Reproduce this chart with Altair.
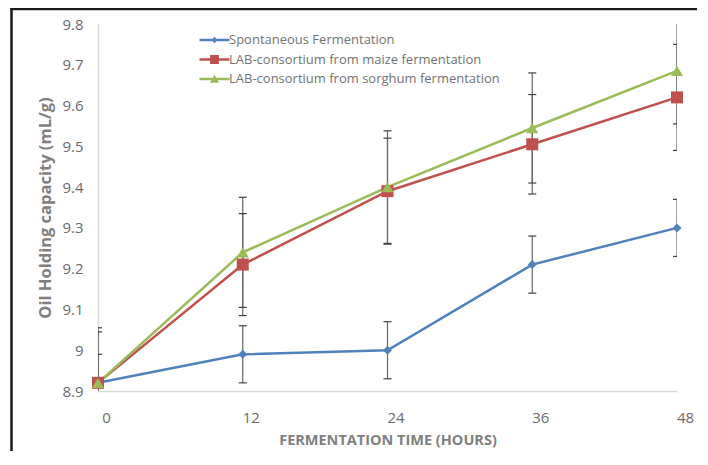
import altair as alt
import pandas as pd

hours = [0, 12, 24, 36, 48]
series_names = [
    "Spontaneous Fermentation",
    "LAB-consortium from maize fermentation",
    "LAB-consortium from sorghum fermentation",
]
spontaneous = [8.92, 8.99, 9.00, 9.21, 9.30]
spontaneous_err = [0.07, 0.07, 0.07, 0.07, 0.07]
maize = [8.92, 9.21, 9.39, 9.505, 9.62]
maize_err = [0.125, 0.125, 0.13, 0.122, 0.13]
sorghum = [8.92, 9.24, 9.40, 9.545, 9.685]
sorghum_err = [0.135, 0.135, 0.138, 0.135, 0.13]
y_ticks = [8.9, 9.0, 9.1, 9.2, 9.3, 9.4, 9.5, 9.6, 9.7, 9.8]
x_ticks = [0, 12, 24, 36, 48]

colors = ["#4F81BD", "#C0504D", "#9BBB59"]
shapes = ["diamond", "square", "triangle-up"]
marker_sizes = [81, 144, 144]
# legend symbols: a short line segment with the marker on it (unit = sqrt(size)/2 px)
legend_paths = [
    "M-3.75,-0.3H3.75V0.3H-3.75Z M0,-0.8L0.8,0L0,0.8L-0.8,0Z",
    "M-3.75,-0.3H3.75V0.3H-3.75Z M-1.1,-1.1H1.1V1.1H-1.1Z",
    "M-3.75,-0.3H3.75V0.3H-3.75Z M0,-1.05L1.15,0.95L-1.15,0.95Z",
]

rows = []
for name, vals, errs in zip(series_names, [spontaneous, maize, sorghum],
                            [spontaneous_err, maize_err, sorghum_err]):
    for h, v, e in zip(hours, vals, errs):
        rows.append({"series": name, "hour": h, "value": v, "lo": v - e, "hi": v + e})
df = pd.DataFrame(rows)

FONT = "Open Sans"
x_scale = alt.Scale(domain=[0, 48], nice=False, zero=False)
y_scale = alt.Scale(domain=[8.9, 9.8], nice=False, zero=False)
x_axis = alt.Axis(
    values=x_ticks, title="FERMENTATION TIME (HOURS)", grid=False, ticks=False,
    tickSize=0, labelPadding=19, labelOffset=8, labelFlush=False, labelOverlap=False,
    domainColor="#d9d9d9", domainWidth=1.5, labelFontSize=15, labelColor="#6b6b6b",
    labelFont=FONT, titleFont=FONT, titleFontSize=14.5, titleFontWeight="bold",
    titleColor="#7f7f7f", titleY=49, titleBaseline="middle",
)
y_axis = alt.Axis(
    values=y_ticks, format=".1~f", title="Oil Holding capacity (mL/g)", grid=False,
    ticks=False, tickSize=0, labelPadding=15, labelFlush=False, labelOverlap=False,
    domainColor="#d9d9d9", domainWidth=1.5, labelFontSize=15, labelColor="#6b6b6b",
    labelFont=FONT, titleFont=FONT, titleFontSize=16.5, titleFontWeight="bold",
    titleColor="#7f7f7f", titleX=-53, titleBaseline="middle",
)


def X():
    return alt.X("hour:Q", scale=x_scale, axis=x_axis)


def Y(field):
    return alt.Y(f"{field}:Q", scale=y_scale, axis=y_axis)


base = alt.Chart(df)

frame_data = alt.Data(values=[{}])
frame_left = alt.Chart(frame_data).mark_rule(color="#1a1a1a", strokeWidth=2.5).encode(
    x=alt.value(-86.5), y=alt.value(-16), y2=alt.value(430)
)
frame_top = alt.Chart(frame_data).mark_rule(color="#1a1a1a", strokeWidth=2.5).encode(
    x=alt.value(-87.5), x2=alt.value(600), y=alt.value(-15)
)

err_rule = base.mark_rule(color="#666666", strokeWidth=1.2, clip=True).encode(
    x=X(), y=Y("lo"), y2="hi:Q"
)
cap_lo = base.mark_tick(orient="horizontal", size=8, thickness=1.2, color="#404040",
                        clip=True, opacity=1).encode(x=X(), y=Y("lo"))
cap_hi = base.mark_tick(orient="horizontal", size=8, thickness=1.2, color="#404040",
                        clip=True, opacity=1).encode(x=X(), y=Y("hi"))

layers = [frame_left, frame_top, err_rule, cap_lo, cap_hi]
for name, color in zip(series_names, colors):
    layers.append(
        base.transform_filter(alt.datum.series == name)
        .mark_line(color=color, strokeWidth=2.5)
        .encode(x=X(), y=Y("value"))
    )
for name, color, shp, sz in zip(series_names, colors, shapes, marker_sizes):
    layers.append(
        base.transform_filter(alt.datum.series == name)
        .mark_point(filled=True, shape=shp, size=sz, color=color, opacity=1, strokeWidth=0)
        .encode(x=X(), y=Y("value"))
    )

leg = alt.Legend(
    title=None, orient="none", legendX=110, legendY=9.5, padding=0, offset=0,
    labelFont=FONT, labelFontSize=13, labelColor="#737373", labelOffset=8,
    labelLimit=0, labelBaseline="middle", rowPadding=5.5, symbolSize=64,
    symbolStrokeWidth=0, symbolOpacity=1,
)
legend_layer = (
    base.transform_filter("datum.hour < 0")
    .mark_point(filled=True, opacity=1, size=64)
    .encode(
        x=X(), y=Y("value"),
        color=alt.Color("series:N", scale=alt.Scale(domain=series_names, range=colors), legend=leg),
        shape=alt.Shape("series:N", scale=alt.Scale(domain=series_names, range=legend_paths), legend=leg),
    )
)
layers.append(legend_layer)

chart = (
    alt.layer(*layers)
    .properties(
        width=579, height=367, autosize="none",
        padding={"left": 90, "top": 16, "right": 20, "bottom": 60},
        background="white",
    )
    .configure_view(stroke=None)
)

chart.save("out.html", embed_options={"renderer": "svg", "actions": False})
